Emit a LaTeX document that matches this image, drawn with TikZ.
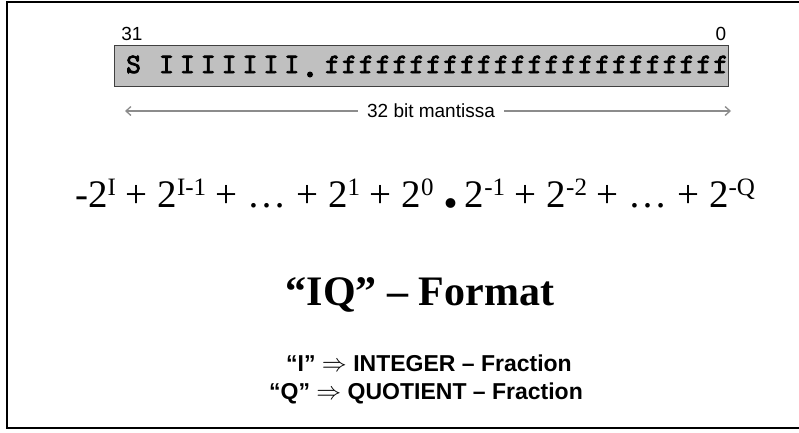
\documentclass[tikz,border=0pt]{standalone}
\usepackage{fontspec}
\setmainfont{Liberation Serif}
\newfontfamily\arialf{Liberation Sans}
\newfontfamily\monob{lmmono10-regular.otf}[FakeBold=3]
\usetikzlibrary{arrows.meta}
\definecolor{boxgray}{RGB}{192,192,192}
\definecolor{linegray}{RGB}{140,140,140}
\newcommand\myexp[1]{\raisebox{0.30em}{\fontsize{25}{25}\selectfont #1}}
\tikzset{
  lbl/.style={font=\arialf\fontsize{19}{21}\selectfont, inner sep=0pt},
  mono/.style={font=\monob\fontsize{28}{28}\selectfont, inner sep=0pt, anchor=base west},
  expl/.style={inner sep=0pt, anchor=base, font=\arialf\bfseries\fontsize{23}{23}\selectfont},
}
\begin{document}
\begin{tikzpicture}[x=1pt,y=-1pt]
\useasboundingbox (0,0) rectangle (799,432);
\fill[white] (0,0) rectangle (799,432);
% outer frame
\draw[line width=1.5pt] (810,2) -- (7,2) -- (7,428) -- (810,428);
% register box
\node[draw=black!75, line width=1pt, fill=boxgray, minimum width=614pt, minimum height=41pt, inner sep=0pt, anchor=north west] (reg) at (114,44.5) {};
\node[mono] (s) at (126,73) {S};
\node[mono] (ii) at (159,73) {\makebox[140pt][s]{I\hfill I\hfill I\hfill I\hfill I\hfill I\hfill I}};
\fill (310,74.5) circle (3pt);
\node[mono] (ff) at (325,73) {\makebox[403pt][s]{f\hfill f\hfill f\hfill f\hfill f\hfill f\hfill f\hfill f\hfill f\hfill f\hfill f\hfill f\hfill f\hfill f\hfill f\hfill f\hfill f\hfill f\hfill f\hfill f\hfill f\hfill f\hfill f\hfill f}};
\node[lbl, anchor=base] (b31) at (132,40) {31};
\node[lbl, anchor=base] (b0) at (721,40) {0};
% mantissa arrow
\coordinate (aL) at (125,111);
\coordinate (aR) at (731,111);
\draw[linegray, line width=1.3pt, {Straight Barb[length=5pt,width=9pt]}-{Straight Barb[length=5pt,width=9pt]}] (aL) -- (aR);
\node[lbl, fill=white, inner xsep=9pt, inner ysep=2pt] (mant) at (431,111) {32 bit mantissa};
% equation
\node[inner sep=0pt, anchor=base west, font=\fontsize{39}{39}\selectfont] (eq) at (75,207)
 {-2\myexp{I} + 2\myexp{I-1} + … + 2\myexp{1} + 2\myexp{0} {\fontsize{60}{60}\selectfont\textbf{.}}\,2\myexp{-1} + 2\myexp{-2} + … + 2\myexp{-Q}};
% title
\node[inner sep=0pt, anchor=base, font=\bfseries\fontsize{42}{42}\selectfont] (title) at (420,305) {“IQ” – Format};
% explanation lines
\node[expl] (l1) at (429,371) {“I” $\Rightarrow$ INTEGER – Fraction};
\node[expl] (l2) at (426,399) {“Q” $\Rightarrow$ QUOTIENT – Fraction};
\end{tikzpicture}
\end{document}
